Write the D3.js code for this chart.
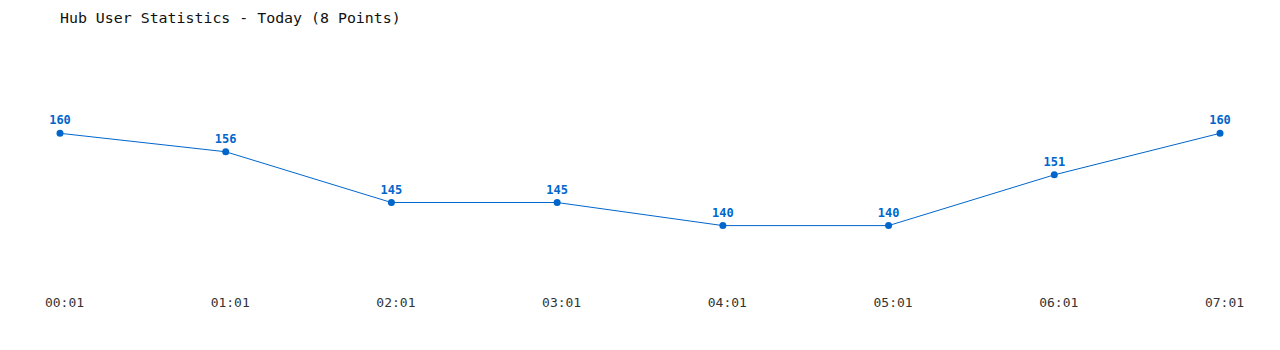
<!DOCTYPE html>
<html>
<head>
<meta charset="utf-8">
<script src="https://cdn.jsdelivr.net/npm/d3@7"></script>
<style>
  body { margin: 0; background: #fff; }
  text { font-family: "DejaVu Sans Mono", "Liberation Mono", monospace; }
</style>
</head>
<body>
<div id="chart"></div>
<script>
const times = ["00:01", "01:01", "02:01", "03:01", "04:01", "05:01", "06:01", "07:01"];
const users = [160, 156, 145, 145, 140, 140, 151, 160];
const chartTitle = "Hub User Statistics - Today (8 Points)";

const width = 1280;
const height = 350;
const blue = "#0066cc";

const svg = d3
  .select("#chart")
  .append("svg")
  .attr("width", width)
  .attr("height", height);

// title
svg
  .append("text")
  .attr("x", 60)
  .attr("y", 23)
  .style("font-size", "14.9px")
  .style("fill", "#111")
  .text(chartTitle);

const x = d3.scalePoint().domain(times).range([60, 1220]);
// 160 sits at ~133px, 140 at ~225px
const y = d3.scaleLinear().domain([140, 160]).range([225.6, 133.3]);

const line = d3
  .line()
  .x((d, i) => x(times[i]))
  .y((d) => y(d));

svg
  .append("path")
  .datum(users)
  .attr("d", line)
  .attr("fill", "none")
  .attr("stroke", blue)
  .attr("stroke-width", 1);

svg
  .selectAll(".dot")
  .data(users)
  .enter()
  .append("circle")
  .attr("class", "dot")
  .attr("cx", (d, i) => x(times[i]))
  .attr("cy", (d) => y(d))
  .attr("r", 3.5)
  .attr("fill", blue);

// value labels above the points
svg
  .selectAll(".val")
  .data(users)
  .enter()
  .append("text")
  .attr("class", "val")
  .attr("x", (d, i) => x(times[i]))
  .attr("y", (d) => y(d) - 9)
  .attr("text-anchor", "middle")
  .style("font-size", "12px")
  .style("font-weight", "bold")
  .style("fill", blue)
  .text((d) => d);

// time labels along the bottom
svg
  .selectAll(".tick-label")
  .data(times)
  .enter()
  .append("text")
  .attr("class", "tick-label")
  .attr("x", (d) => x(d) + 4.5)
  .attr("y", 307)
  .attr("text-anchor", "middle")
  .style("font-size", "13px")
  .style("fill", "#333")
  .text((d) => d);
</script>
</body>
</html>
